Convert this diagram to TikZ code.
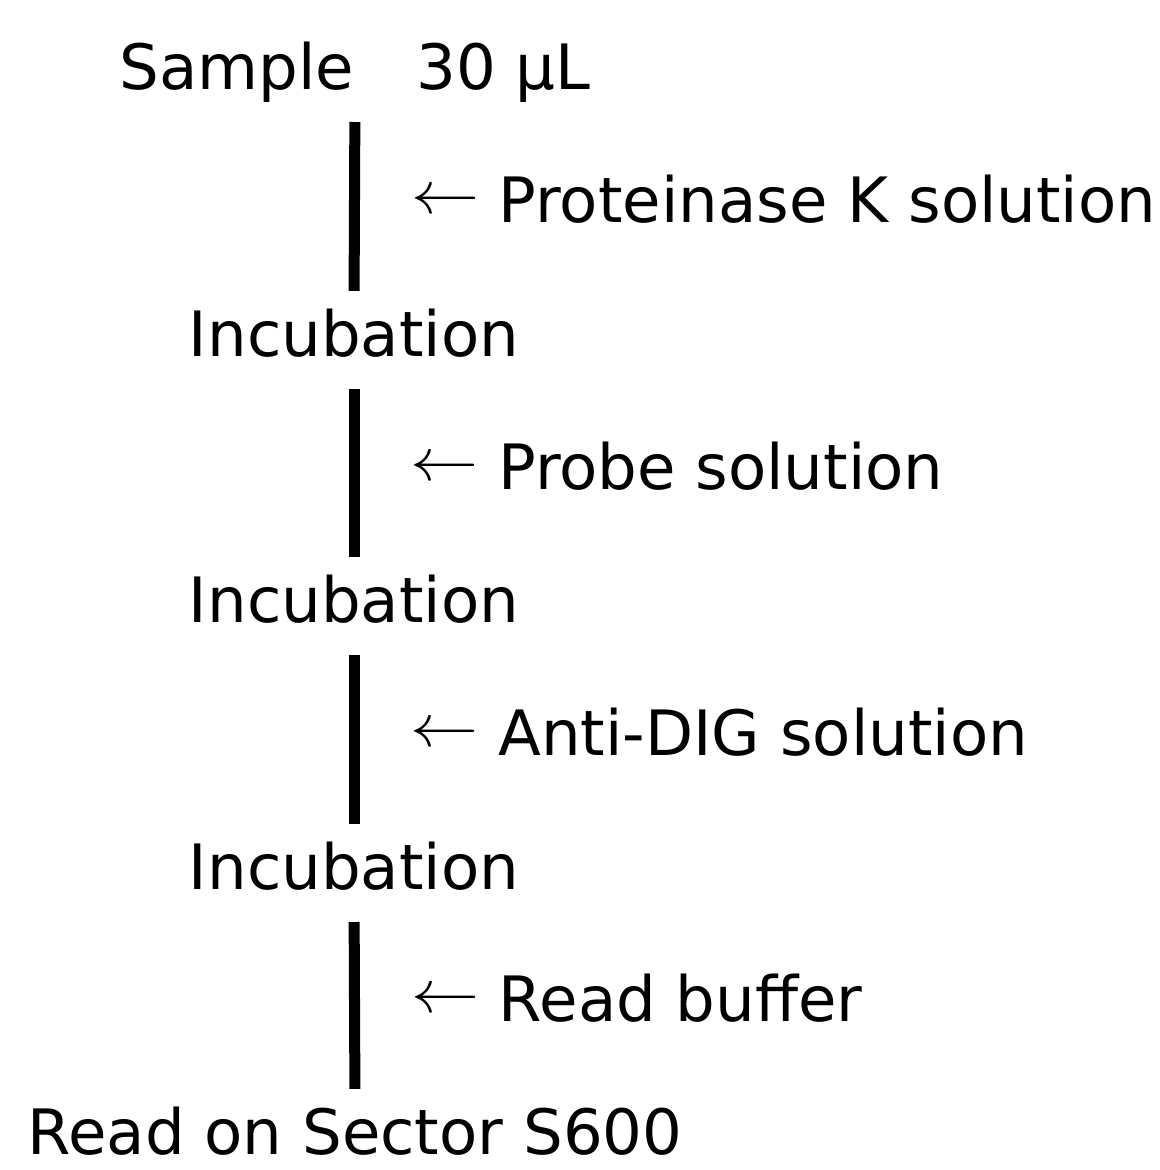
\documentclass[tikz,border=0pt]{standalone}
\usepackage{fontspec}
\setmainfont{DejaVu Sans}
\usetikzlibrary{positioning}

\newcommand{\addarrow}{\raisebox{2.6pt}{\scalebox{1.12}[1]{$\leftarrow$}}}

\tikzset{
  stage/.style={font=\fontsize{17.8pt}{22pt}\selectfont, inner sep=0pt,
    text height=13pt, text depth=0pt, anchor=south},
  reagent/.style={font=\fontsize{17.8pt}{22pt}\selectfont, inner sep=0pt,
    text height=13pt, text depth=0pt, anchor=west, xshift=5.1mm},
  flowbar/.style={line width=1.1mm, shorten <=3.2mm, shorten >=1.9mm},
}

\begin{document}
\begin{tikzpicture}[x=0.1mm, y=-0.1mm]
\useasboundingbox (0,0) rectangle (1160,1170);

% steps down the middle column
\node[stage] (sample) at (355,90) {Sample\hspace{1em}30~µL};
\node[stage] (inc1) at (354,357) {Incubation};
\node[stage] (inc2) at (354,623) {Incubation};
\node[stage] (inc3) at (354,890) {Incubation};
\node[stage] (read) at (355,1155) {Read on Sector S600};

% bars with what is added
\draw[flowbar] (sample.south) -- node[reagent] (addpk) {\addarrow{} Proteinase K solution} (inc1.north);
\draw[flowbar] (inc1.south) -- node[reagent] (addprobe) {\addarrow{} Probe solution} (inc2.north);
\draw[flowbar] (inc2.south) -- node[reagent] (adddig) {\addarrow{} Anti-DIG solution} (inc3.north);
\draw[flowbar] (inc3.south) -- node[reagent] (addbuf) {\addarrow{} Read buffer} (read.north);
\end{tikzpicture}
\end{document}
